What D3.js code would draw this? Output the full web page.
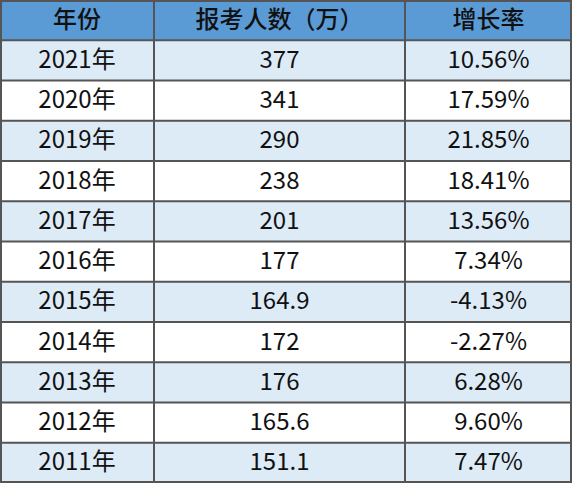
<!DOCTYPE html><html><head><meta charset="utf-8"><script src="https://cdn.jsdelivr.net/npm/d3@7"></script>
<style>body{margin:0;background:#fff}</style></head><body><svg id="c" width="572" height="483"></svg>
<script>
const headers=["年份","报考人数（万）","增长率"];
const years=["2021年","2020年","2019年","2018年","2017年","2016年","2015年","2014年","2013年","2012年","2011年"];
const counts=["377","341","290","238","201","177","164.9","172","176","165.6","151.1"];
const rates=["10.56%","17.59%","21.85%","18.41%","13.56%","7.34%","-4.13%","-2.27%","6.28%","9.60%","7.47%"];
const svg=d3.select("#c");
const colEdges=[0,154,405,572];
const y=d3.scaleBand().domain(d3.range(12)).range([0,483]);
const rows=[headers].concat(years.map((d,i)=>[d,counts[i],rates[i]]));
rows.forEach((r,i)=>{
  const fill=i===0?"#5B9BD5":(i%2===1?"#DDEBF7":"#FFFFFF");
  svg.append("rect").attr("x",0).attr("y",y(i)).attr("width",572).attr("height",y.bandwidth()).attr("fill",fill);
  r.forEach((t,j)=>{
    svg.append("text").attr("x",(colEdges[j]+colEdges[j+1])/2).attr("y",y(i)+y.bandwidth()/2+1)
      .attr("text-anchor","middle").attr("dominant-baseline","middle")
      .attr("font-family","'Noto Sans CJK SC','Noto Sans',sans-serif").attr("font-weight",i===0?500:400).attr("font-size",24).attr("fill","#111").text(t);
  });
});
d3.range(13).forEach(i=>{const yy=i===12?482:(i===0?1:y(i));
  svg.append("line").attr("x1",0).attr("x2",572).attr("y1",yy).attr("y2",yy).attr("stroke","#555").attr("stroke-width",2);});
colEdges.forEach((x,j)=>{const xx=j===0?1:(j===3?571:x);
  svg.append("line").attr("x1",xx).attr("x2",xx).attr("y1",0).attr("y2",483).attr("stroke","#555").attr("stroke-width",2);});
</script></body></html>
